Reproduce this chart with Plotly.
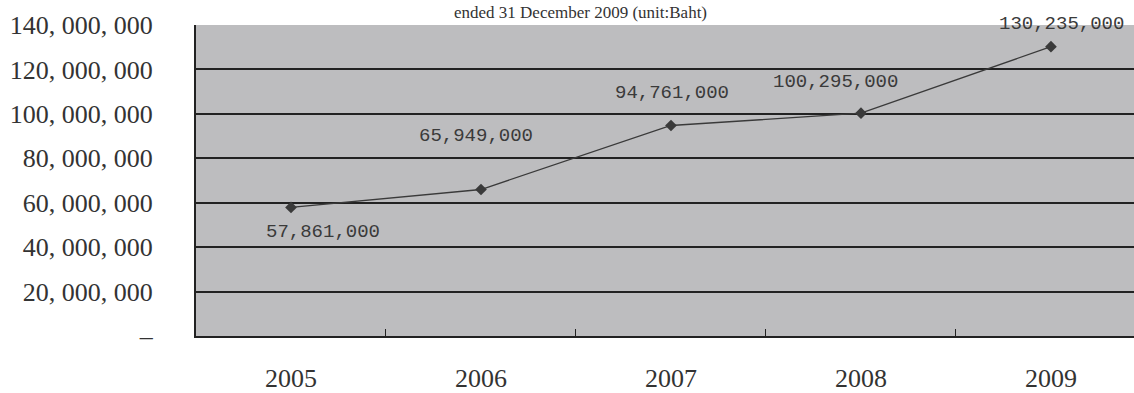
import plotly.graph_objects as go

years = ["2005", "2006", "2007", "2008", "2009"]
values = [57861000, 65949000, 94761000, 100295000, 130235000]
label_texts = ["57,861,000", "65,949,000", "94,761,000", "100,295,000", "130,235,000"]
label_dx = [32, -5, 1, -25, 11]
label_dy = [-25, 54, 33, 31, 23]
y_tickvals = [0, 20000000, 40000000, 60000000, 80000000, 100000000, 120000000, 140000000]
y_ticktext = ["\u2013", "20, 000, 000", "40, 000, 000", "60, 000, 000", "80, 000, 000",
              "100, 000, 000", "120, 000, 000", "140, 000, 000"]
title_text = "ended 31 December 2009 (unit:Baht)"

fig = go.Figure()
fig.add_trace(go.Scatter(
    x=years, y=values, mode="lines+markers",
    line=dict(color="#3a3a3a", width=1.3),
    marker=dict(symbol="diamond", size=9, color="#3a3a3a"),
    hoverinfo="skip", showlegend=False,
))

for i, (v, t, dx, dy) in enumerate(zip(values, label_texts, label_dx, label_dy)):
    fig.add_annotation(x=i, y=v, xref="x", yref="y", text=t, showarrow=False,
                       xshift=dx, yshift=dy,
                       font=dict(family="Liberation Mono", size=19, color="#3a3a3a"))

fig.add_annotation(xref="paper", yref="paper", x=0.41, y=1.0757, xanchor="center",
                   yanchor="top", text=title_text, showarrow=False,
                   font=dict(family="Liberation Serif", size=17, color="#333"))

fig.update_layout(
    width=1134, height=393,
    margin=dict(l=196, r=0, t=25, b=51),
    paper_bgcolor="white", plot_bgcolor="#bdbdbf",
    font=dict(family="Liberation Serif", color="#333"),
    xaxis=dict(type="category", range=[-0.5, 4.437], tickson="boundaries",
               ticks="inside", ticklen=7, tickcolor="#222", tickwidth=1.2,
               showgrid=False, showline=True, linecolor="#222", linewidth=2,
               tickfont=dict(family="Liberation Serif", size=26, color="#333"),
               ticklabelstandoff=18, fixedrange=True),
    yaxis=dict(range=[0, 140000000], tickvals=y_tickvals, ticktext=y_ticktext,
               ticks="", showgrid=True, gridcolor="#222", gridwidth=1.6,
               showline=True, linecolor="#222", linewidth=2, zeroline=False,
               tickfont=dict(family="Liberation Serif", size=26, color="#333"),
               ticklabelstandoff=36, fixedrange=True),
)

fig.write_html("out.html")
